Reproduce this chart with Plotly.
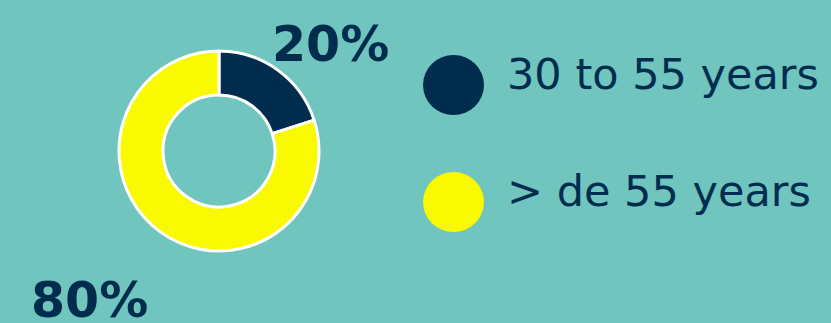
import plotly.graph_objects as go

categories = ["30 to 55 years", "> de 55 years"]
values = [20, 80]
colors = ["#002D4E", "#F9F900"]

W, H = 831, 323
BG = "#70C5BE"
NAVY = "#002D4E"

def px(x):
    return x / W

def py(y):
    return 1 - y / H

fig = go.Figure()
fig.add_trace(go.Pie(
    labels=categories, values=values, hole=0.56, sort=False,
    direction="clockwise", rotation=0,
    marker=dict(colors=colors, line=dict(color="white", width=3)),
    textinfo="none", hoverinfo="label+percent", showlegend=False,
    domain=dict(x=[px(119), px(319)], y=[py(251), py(51)]),
))

# percentage labels
label_pos = [(330, 44), (89, 300)]
for v, (x, y) in zip(values, label_pos):
    fig.add_annotation(x=px(x), y=py(y), xref="paper", yref="paper",
                       text=f"<b>{v}%</b>", showarrow=False,
                       font=dict(family="DejaVu Sans", size=49, color=NAVY),
                       xanchor="center", yanchor="middle")

# custom legend
legend_y = [85, 202]
shapes = []
for cat, col, y in zip(categories, colors, legend_y):
    shapes.append(dict(type="circle", xref="paper", yref="paper",
                       x0=px(423), x1=px(484), y0=py(y - 30), y1=py(y + 30),
                       fillcolor=col, line=dict(width=0)))
    fig.add_annotation(x=px(505), y=py(y - 11), xref="paper", yref="paper",
                       text=cat, showarrow=False,
                       font=dict(family="DejaVu Sans", size=43, color=NAVY),
                       xanchor="left", yanchor="middle")

fig.update_layout(width=W, height=H, margin=dict(l=0, r=0, t=0, b=0),
                  paper_bgcolor=BG, plot_bgcolor=BG, shapes=shapes)

fig.write_html("out.html", config={"displayModeBar": False},
               post_script="document.body.style.margin='0';document.body.style.background='" + BG + "';")
